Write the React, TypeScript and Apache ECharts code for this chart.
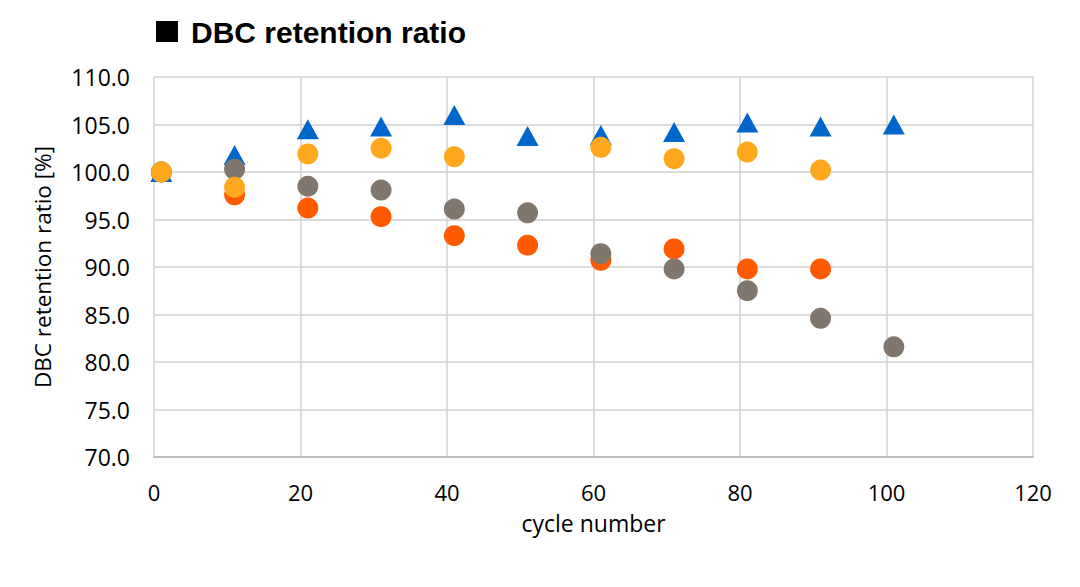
import React, { useEffect, useRef } from "react";
import * as echarts from "echarts";

const cycles = [1, 11, 21, 31, 41, 51, 61, 71, 81, 91, 101];
const blueValues = [100.0, 101.8, 104.5, 104.8, 106.0, 103.8, 103.9, 104.2, 105.2, 104.8, 105.0];
const redValues = [100.0, 97.6, 96.2, 95.3, 93.3, 92.3, 90.7, 91.9, 89.8, 89.8, null];
const grayValues = [100.0, 100.3, 98.5, 98.1, 96.1, 95.7, 91.4, 89.8, 87.5, 84.6, 81.6];
const orangeValues = [100.0, 98.4, 101.9, 102.5, 101.6, null, 102.6, 101.4, 102.1, 100.2, null];
const xTicks = [0, 20, 40, 60, 80, 100, 120];
const yTicks = [70, 75, 80, 85, 90, 95, 100, 105, 110];

const toPairs = (vals: (number | null)[]) =>
  cycles.map((c, i) => (vals[i] == null ? null : [c, vals[i]])).filter((p) => p !== null);

export default function App() {
  const ref = useRef<HTMLDivElement>(null);
  useEffect(() => {
    if (!ref.current) return;
    const chart = echarts.init(ref.current, undefined, { renderer: "svg" });
    const font = "'Open Sans', sans-serif";
    chart.setOption({
      animation: false,
      backgroundColor: "#ffffff",
      graphic: [
        {
          type: "rect",
          shape: { x: 156, y: 21, width: 22, height: 21 },
          style: { fill: "#000000" },
        },
        {
          type: "text",
          x: 191,
          y: 32,
          style: {
            text: "DBC retention ratio",
            fontFamily: "'Liberation Sans', Arial, sans-serif",
            fontWeight: "bold",
            fontSize: 30,
            fill: "#000000",
            verticalAlign: "middle",
          },
        },
      ],
      grid: { left: 154, right: 47, top: 77, bottom: 130 },
      xAxis: {
        type: "value",
        min: xTicks[0],
        max: xTicks[xTicks.length - 1],
        interval: 20,
        name: "cycle number",
        nameLocation: "middle",
        nameGap: 54,
        nameTextStyle: { fontFamily: font, fontSize: 23, color: "#000" },
        axisLine: { show: true, lineStyle: { color: "#BFBFBF", width: 2 } },
        axisTick: { show: false },
        axisLabel: { fontFamily: font, fontSize: 22, color: "#000", margin: 24 },
        splitLine: { show: true, lineStyle: { color: "#D0D0D0", width: 1.5 } },
      },
      yAxis: {
        type: "value",
        min: yTicks[0],
        max: yTicks[yTicks.length - 1],
        interval: 5,
        name: "DBC retention ratio [%]",
        nameLocation: "middle",
        nameGap: 100,
        nameTextStyle: { fontFamily: font, fontSize: 22.5, color: "#000" },
        axisLine: { show: false },
        axisTick: { show: false },
        axisLabel: {
          fontFamily: font,
          fontSize: 23,
          color: "#000",
          margin: 24,
          formatter: (v: number) => v.toFixed(1),
        },
        splitLine: { show: true, lineStyle: { color: "#D0D0D0", width: 1.5 } },
      },
      series: [
        {
          type: "scatter",
          data: toPairs(blueValues),
          symbol: "triangle",
          symbolSize: [22, 20],
          itemStyle: { color: "#0066CC", opacity: 1 },
          z: 2,
        },
        {
          type: "scatter",
          data: toPairs(redValues),
          symbol: "circle",
          symbolSize: 21,
          itemStyle: { color: "#FF5A00", opacity: 1 },
          z: 3,
        },
        {
          type: "scatter",
          data: toPairs(grayValues),
          symbol: "circle",
          symbolSize: 21,
          itemStyle: { color: "#7F766E", opacity: 1 },
          z: 4,
        },
        {
          type: "scatter",
          data: toPairs(orangeValues),
          symbol: "circle",
          symbolSize: 21,
          itemStyle: { color: "#FFA81E", opacity: 1 },
          z: 5,
        },
      ],
    });
    return () => chart.dispose();
  }, []);
  return <div ref={ref} style={{ width: 1080, height: 587, margin: -8 }} />;
}
